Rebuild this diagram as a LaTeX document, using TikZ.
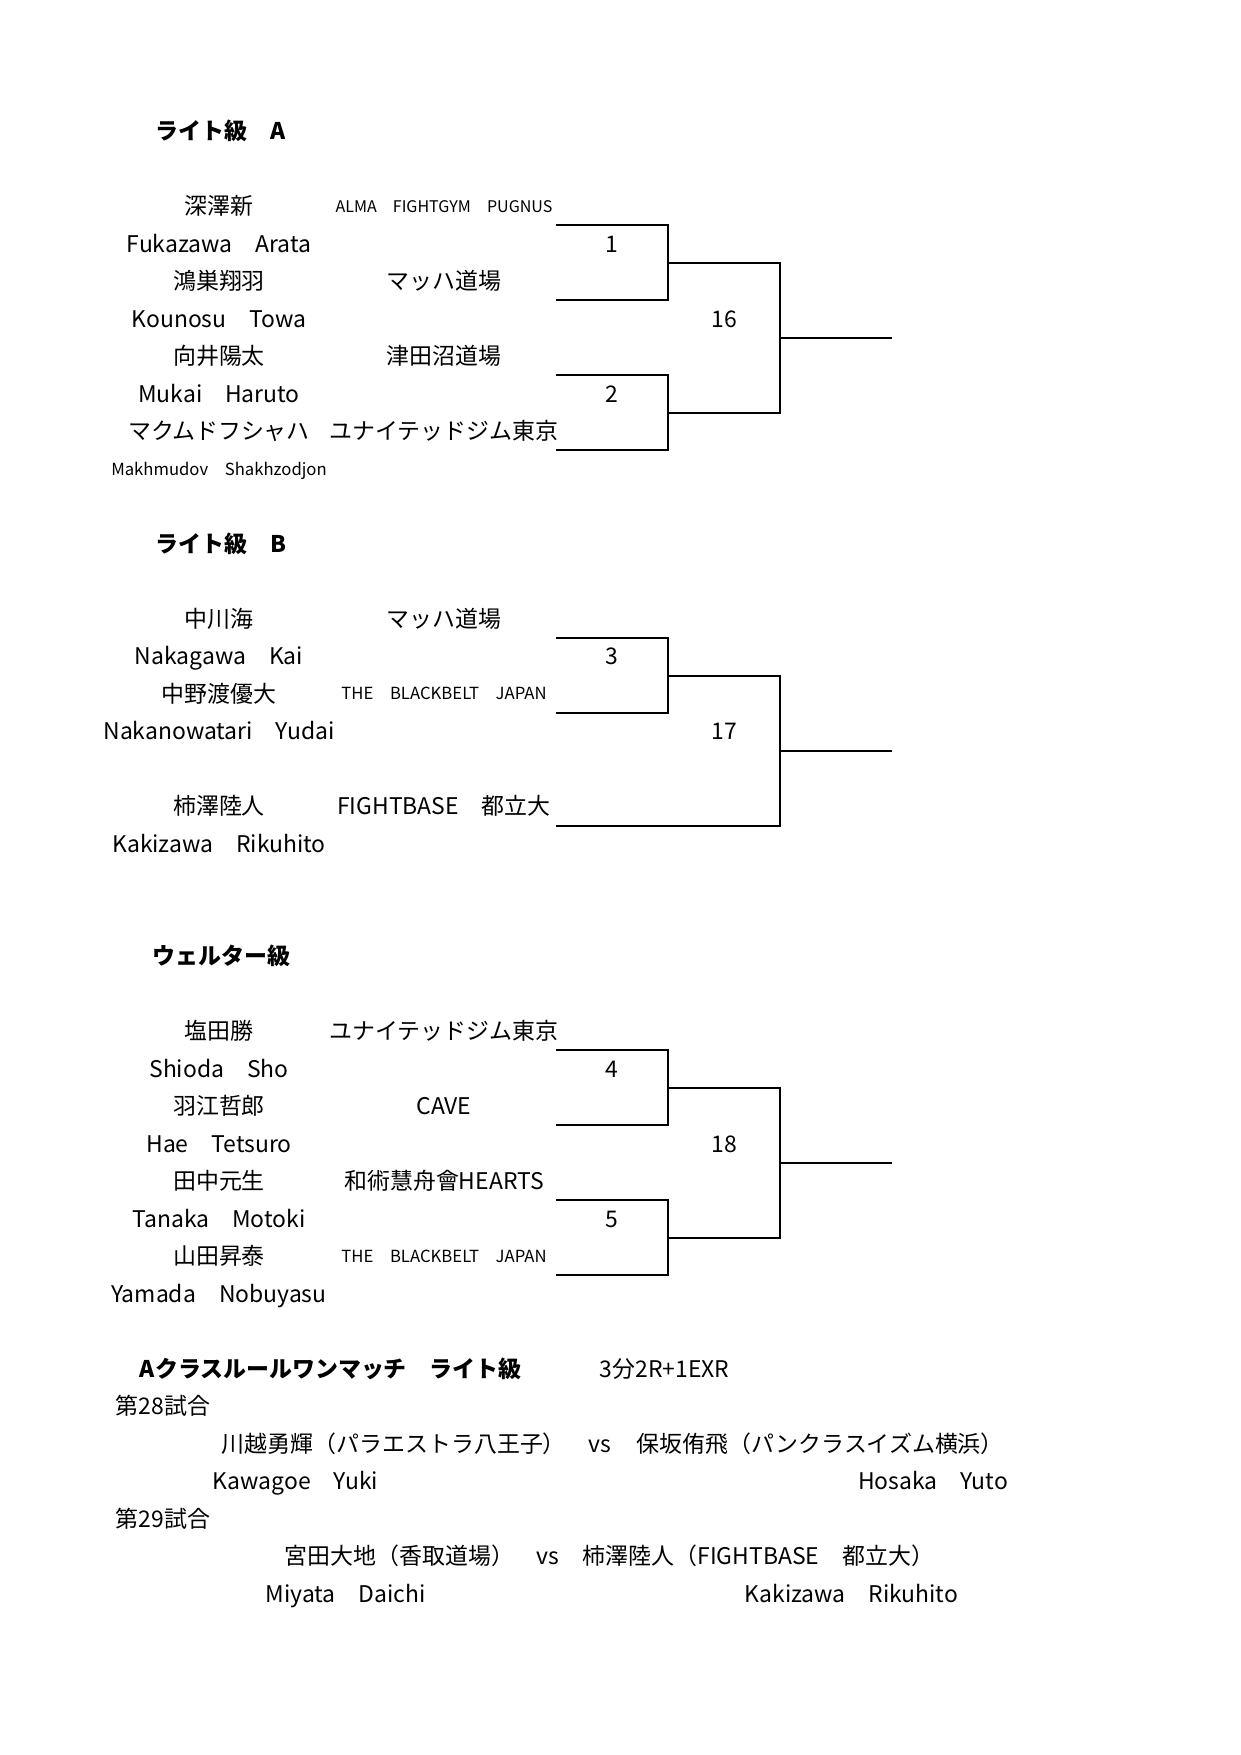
\documentclass[tikz,border=0pt]{standalone}
\usepackage{fontspec}
\setmainfont{Noto Sans CJK JP}
\usetikzlibrary{positioning}

\begin{document}
\begin{tikzpicture}[x=0.4797pt, y=-0.4797pt, inner sep=0pt, line width=0.9pt,
    font=\fontsize{11}{13}\selectfont,
    fighter/.style={anchor=base},
    club/.style={anchor=base},
    smalltext/.style={font=\fontsize{8}{10}\selectfont},
    headtext/.style={anchor=base west, font=\fontsize{11}{13}\selectfont\bfseries},
    textline/.style={anchor=base west}]
  \useasboundingbox (0,0) rectangle (1241,1755);

  % ライト級 A
  \node[headtext] (hA) at (155,139.5) {ライト級　A};
  \node[fighter] (a1k) at (219,214.5) {深澤新};
  \node[fighter] (a1r) at (219,252) {Fukazawa　Arata};
  \node[fighter] (a2k) at (219,289.5) {鴻巣翔羽};
  \node[fighter] (a2r) at (219,327) {Kounosu　Towa};
  \node[fighter] (a3k) at (219,364.5) {向井陽太};
  \node[fighter] (a3r) at (219,402) {Mukai　Haruto};
  \node[fighter] (a4k) at (219,439.5) {マクムドフシャハ};
  \node[fighter, smalltext] (a4r) at (219,475) {Makhmudov　Shakhzodjon};
  \node[club, font=\fontsize{7.7}{10}\selectfont] (a1c) at (444,212) {ALMA　FIGHTGYM　PUGNUS};
  \node[club] (a2c) at (444,289.5) {マッハ道場};
  \node[club] (a3c) at (444,364.5) {津田沼道場};
  \node[club] (a4c) at (444,439.5) {ユナイテッドジム東京};

  % ライト級 B
  \node[headtext] (hB) at (155,552) {ライト級　B};
  \node[fighter] (b1k) at (219,627) {中川海};
  \node[fighter] (b1r) at (219,664.5) {Nakagawa　Kai};
  \node[fighter] (b2k) at (219,702) {中野渡優大};
  \node[fighter] (b2r) at (219,739.5) {Nakanowatari　Yudai};
  \node[fighter] (b3k) at (219,814.5) {柿澤陸人};
  \node[fighter] (b3r) at (219,852) {Kakizawa　Rikuhito};
  \node[club] (b1c) at (444,627) {マッハ道場};
  \node[club, smalltext] (b2c) at (444,699.5) {THE　BLACKBELT　JAPAN};
  \node[club] (b3c) at (444,814.5) {FIGHTBASE　都立大};

  % ウェルター級
  \node[headtext] (hW) at (152,964.5) {ウェルター級};
  \node[fighter] (w1k) at (219,1039.5) {塩田勝};
  \node[fighter] (w1r) at (219,1077) {Shioda　Sho};
  \node[fighter] (w2k) at (219,1114.5) {羽江哲郎};
  \node[fighter] (w2r) at (219,1152) {Hae　Tetsuro};
  \node[fighter] (w3k) at (219,1189.5) {田中元生};
  \node[fighter] (w3r) at (219,1227) {Tanaka　Motoki};
  \node[fighter] (w4k) at (219,1264.5) {山田昇泰};
  \node[fighter] (w4r) at (219,1302) {Yamada　Nobuyasu};
  \node[club] (w1c) at (444,1039.5) {ユナイテッドジム東京};
  \node[club] (w2c) at (444,1114.5) {CAVE};
  \node[club] (w3c) at (444,1189.5) {和術慧舟會HEARTS};
  \node[club, smalltext] (w4c) at (444,1262) {THE　BLACKBELT　JAPAN};

  % brackets of four
  \foreach \oy/\ma/\mb/\mf in {0/1/2/16, 825/4/5/18} {
    \begin{scope}[shift={(0,\oy)}]
      \draw (556,225.25) -| (668,300.25) -- (556,300.25);
      \draw (556,375.25) -| (668,450.25) -- (556,450.25);
      \draw (668,262.75) -| (780,412.75) -- (668,412.75);
      \draw (780,337.75) -- (892,337.75);
      \node[anchor=base] (m\ma) at (612,252) {\ma};
      \node[anchor=base] (m\mb) at (612,402) {\mb};
      \node[anchor=base] (m\mf) at (724,327) {\mf};
    \end{scope}
  }

  % bracket of three
  \draw (556,638.25) -| (668,713.25) -- (556,713.25);
  \draw (668,675.75) -| (780,825.75) -- (556,825.75);
  \draw (780,750.75) -- (892,750.75);
  \node[anchor=base] (m3) at (612,664.5) {3};
  \node[anchor=base] (m17) at (724,739.5) {17};

  % ワンマッチ
  \node[headtext] (hX) at (139,1377) {Aクラスルールワンマッチ　ライト級};
  \node[textline] (rule) at (599,1377) {3分2R+1EXR};
  \node[textline] (g28) at (115,1414.5) {第28試合};
  \node[textline] (p28a) at (221,1452) {川越勇輝（パラエストラ八王子）};
  \node[anchor=base] (vs28) at (600,1452) {vs};
  \node[textline] (p28b) at (636,1452) {保坂侑飛（パンクラスイズム横浜）};
  \node[textline] (r28a) at (212,1489.5) {Kawagoe　Yuki};
  \node[anchor=base east] (r28b) at (1009,1489.5) {Hosaka　Yuto};
  \node[textline] (g29) at (115,1527) {第29試合};
  \node[textline] (p29a) at (284,1564.5) {宮田大地（香取道場）};
  \node[anchor=base] (vs29) at (548,1564.5) {vs};
  \node[textline] (p29b) at (582,1564.5) {柿澤陸人（FIGHTBASE　都立大）};
  \node[textline] (r29a) at (265,1602) {Miyata　Daichi};
  \node[anchor=base east] (r29b) at (959,1602) {Kakizawa　Rikuhito};
\end{tikzpicture}
\end{document}
